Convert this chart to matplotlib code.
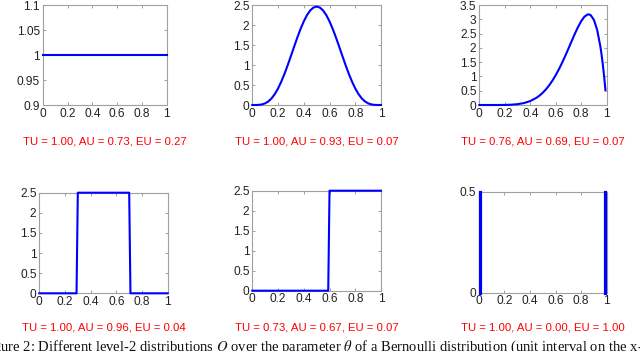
import matplotlib
matplotlib.use('Agg')
import matplotlib.pyplot as plt
from matplotlib.ticker import FormatStrFormatter

plt.rcParams['font.family'] = ['Liberation Sans', 'DejaVu Sans']
plt.rcParams['mathtext.fontset'] = 'stix'

# ---- data ----
# panel 1: flat density
x_flat = [0, 1]
y_flat = [1, 1]

# panel 2: symmetric bump
x_bump = [0, 0.025, 0.05, 0.075, 0.1, 0.125, 0.15, 0.175, 0.2, 0.225, 0.25,
          0.275, 0.3, 0.325, 0.35, 0.375, 0.4, 0.425, 0.45, 0.475, 0.5,
          0.525, 0.55, 0.575, 0.6, 0.625, 0.65, 0.675, 0.7, 0.725, 0.75,
          0.775, 0.8, 0.825, 0.85, 0.875, 0.9, 0.925, 0.95, 0.975, 1]
y_bump = [0, 0.0002, 0.003, 0.015, 0.041, 0.090, 0.167, 0.274, 0.413, 0.583, 0.779,
          0.995, 1.225, 1.459, 1.688, 1.901, 2.090, 2.247, 2.364, 2.436, 2.461,
          2.436, 2.364, 2.247, 2.090, 1.901, 1.688, 1.459, 1.225, 0.995, 0.779,
          0.583, 0.413, 0.274, 0.167, 0.090, 0.041, 0.015, 0.003, 0.0002, 0]

# panel 3: skewed bump
x_skew = [0, 0.05, 0.1, 0.15, 0.2, 0.25, 0.3, 0.35, 0.4, 0.45, 0.475, 0.5,
          0.525, 0.55, 0.575, 0.6, 0.625, 0.65, 0.675, 0.7, 0.725, 0.75,
          0.775, 0.8, 0.825, 0.85, 0.86, 0.875, 0.9, 0.925, 0.95, 0.96,
          0.97, 0.98, 0.99]
y_skew = [0, 0, 0.0001, 0.0005, 0.003, 0.010, 0.029, 0.067, 0.138, 0.256, 0.338, 0.438,
          0.557, 0.698, 0.860, 1.045, 1.252, 1.478, 1.722, 1.977, 2.236, 2.492,
          2.730, 2.936, 3.090, 3.168, 3.172, 3.142, 2.976, 2.631, 2.058, 1.753,
          1.399, 0.992, 0.527]

# panel 4: box in the middle
x_box = [0, 0.29, 0.3, 0.7, 0.71, 1]
y_box = [0, 0, 2.5, 2.5, 0, 0]

# panel 5: step on the right
x_step = [0, 0.59, 0.6, 1]
y_step = [0, 0, 2.5, 2.5]

# panel 6: two spikes at the ends
x_spikes = [0.012, 0.984]
y_spike_top = 0.5

x_ticks = [0, 0.2, 0.4, 0.6, 0.8, 1]
y_ticks = [
    [0.9, 0.95, 1, 1.05, 1.1],
    [0, 0.5, 1, 1.5, 2, 2.5],
    [0, 0.5, 1, 1.5, 2, 2.5, 3, 3.5],
    [0, 0.5, 1, 1.5, 2, 2.5],
    [0, 0.5, 1, 1.5, 2, 2.5],
    [0, 0.5],
]
y_lims = [(0.9, 1.1), (0, 2.5), (0, 3.5), (0, 2.5), (0, 2.5), (0, 0.5)]

labels = [
    'TU = 1.00, AU = 0.73, EU = 0.27',
    'TU = 1.00, AU = 0.93, EU = 0.07',
    'TU = 0.76, AU = 0.69, EU = 0.07',
    'TU = 1.00, AU = 0.96, EU = 0.04',
    'TU = 0.73, AU = 0.67, EU = 0.07',
    'TU = 1.00, AU = 0.00, EU = 1.00',
]

caption = ('Figure 2: Different level-2 distributions $Q$ over the parameter $\\theta$ '
           'of a Bernoulli distribution (unit interval on the x-axis). The figure shows')

# ---- layout (pixels: left, top, right, bottom) ----
W, H = 640, 351
boxes = [(42.7, 5, 166.7, 105), (252.3, 5, 381, 105), (479.3, 5, 606.7, 105),
         (39.3, 192.7, 167.7, 293.3), (252.3, 190.7, 381, 290.7), (478.7, 192, 606.7, 292.7)]
label_y = [142, 142, 142, 327.5, 327.5, 327.5]

fig = plt.figure(figsize=(W / 100, H / 100), dpi=100)

curves = [(x_flat, y_flat), (x_bump, y_bump), (x_skew, y_skew),
          (x_box, y_box), (x_step, y_step), None]

for i in range(6):
    l, t, r, b = boxes[i]
    ax = fig.add_axes([l / W, 1 - b / H, (r - l) / W, (b - t) / H])
    if curves[i] is not None:
        ax.plot(curves[i][0], curves[i][1], color='b', lw=1.5, clip_on=False, zorder=3)
    else:
        for xs in x_spikes:
            ax.plot([xs, xs], [0, y_spike_top], color='b', lw=2.3, clip_on=False, zorder=3)
    ax.set_xlim(0, 1)
    ax.set_ylim(*y_lims[i])
    ax.set_xticks(x_ticks)
    ax.set_yticks(y_ticks[i])
    ax.xaxis.set_major_formatter(FormatStrFormatter('%g'))
    ax.yaxis.set_major_formatter(FormatStrFormatter('%g'))
    ax.tick_params(direction='in', length=2.5, width=0.6, top=True, right=True,
                   labelsize=8.6, pad=2, color='#909090', labelcolor='#222222')
    for s in ax.spines.values():
        s.set_color('#a0a0a0')
        s.set_linewidth(0.8)
    fig.text((l + r) / 2 / W, 1 - label_y[i] / H, labels[i], color='red',
             fontsize=8.2, ha='center', va='center')

# caption of the source page, cut by the crop on both sides
fig.text(-19 / W, 1 - 351 / H, caption, family='Liberation Serif', fontsize=10.5,
         color='#111111', ha='left', va='baseline')

plt.savefig('out.png', dpi=100)
